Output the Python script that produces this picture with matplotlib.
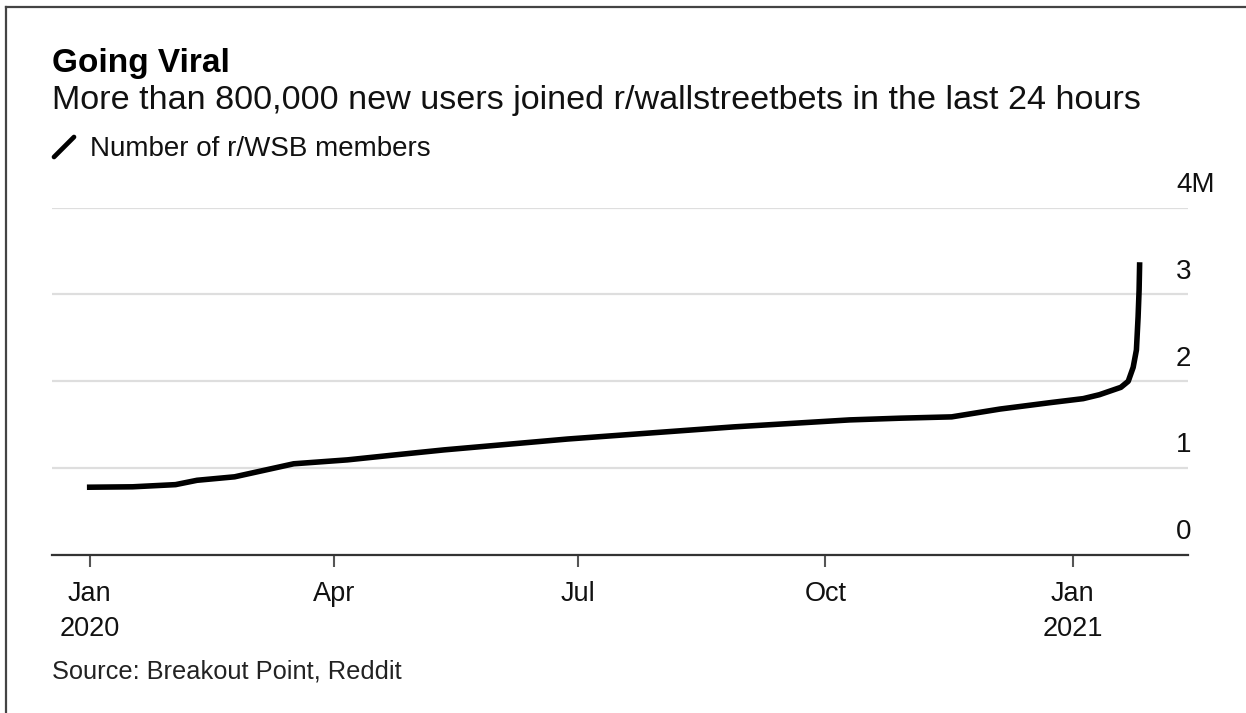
import matplotlib
matplotlib.use("Agg")
import matplotlib.pyplot as plt
from matplotlib.lines import Line2D
import matplotlib.transforms as mtrans
import pandas as pd

plt.rcParams['font.family'] = ['Liberation Sans', 'DejaVu Sans']

# ---- data (millions of members) ----
dates = ["2019-12-31 00:00", "2020-01-17 00:00", "2020-02-02 00:00", "2020-02-10 00:00", "2020-02-24 00:00",
         "2020-03-17 00:00", "2020-04-06 00:00", "2020-04-23 00:00", "2020-05-12 00:00", "2020-06-27 00:00",
         "2020-08-28 00:00", "2020-10-10 00:00", "2020-10-29 00:00", "2020-11-17 00:00", "2020-12-05 00:00",
         "2020-12-24 00:00", "2021-01-05 00:00", "2021-01-11 00:00", "2021-01-19 00:00",
         "2021-01-21 18:00", "2021-01-23 14:00", "2021-01-24 19:00",
         "2021-01-25 10:00", "2021-01-25 19:00", "2021-01-26 00:00"]
members = [0.78, 0.785, 0.81, 0.86, 0.90,
           1.05, 1.095, 1.15, 1.21, 1.335,
           1.475, 1.555, 1.575, 1.59, 1.68,
           1.755, 1.80, 1.845, 1.93,
           2.00, 2.16, 2.36,
           2.74, 3.05, 3.37]
x_ticks = ["2020-01-01", "2020-04-01", "2020-07-01", "2020-10-01", "2021-01-01"]
x_labels = ["Jan\n2020", "Apr", "Jul", "Oct", "Jan\n2021"]
y_ticks = [0, 1, 2, 3, 4]
y_labels = ["0", "1", "2", "3", "4M"]

W, H = 1246, 713
fig = plt.figure(figsize=(W / 100, H / 100), dpi=100)

def fx(px):
    return px / W

def fy(py):
    return 1 - py / H

ax_left, ax_right, ax_top, ax_bottom = 52, 1188, 207.5, 555
ax = fig.add_axes([fx(ax_left), fy(ax_bottom), fx(ax_right - ax_left), (ax_bottom - ax_top) / H])

d = pd.to_datetime(dates, format="%Y-%m-%d %H:%M")
ax.plot(d, members, color='black', lw=4, solid_capstyle='butt', solid_joinstyle='round', zorder=3)

ax.set_xlim(pd.Timestamp("2019-12-18"), pd.Timestamp("2021-02-13"))
ax.set_ylim(0, 4)

for s in ['top', 'right', 'left']:
    ax.spines[s].set_visible(False)
ax.spines['bottom'].set_color('#333333')
ax.spines['bottom'].set_linewidth(1.6)
ax.spines['bottom'].set_zorder(4)

ax.set_xticks(pd.to_datetime(x_ticks))
ax.set_xticklabels(x_labels, fontsize=19.5, color='#111111', linespacing=1.45)
ax.tick_params(axis='x', length=8.5, width=1.5, color='#555555', pad=10)

ax.set_yticks(y_ticks)
ax.set_yticklabels([])
ax.tick_params(axis='y', length=0)
ax.grid(axis='y', color='#dedede', lw=1.6)
ax.set_axisbelow(True)

ytrans = mtrans.blended_transform_factory(ax.transAxes, ax.transData)
off = mtrans.ScaledTranslation(0, 7 / 72, fig.dpi_scale_trans)
for v, lab in zip(y_ticks, y_labels):
    ax.text((1176 - ax_left) / (ax_right - ax_left), v, lab, transform=ytrans + off,
            ha='left', va='bottom', fontsize=20, color='#111111')

# titles
fig.text(fx(52), fy(72), "Going Viral", fontsize=24, fontweight='bold', va='baseline', ha='left')
fig.text(fx(52), fy(109), "More than 800,000 new users joined r/wallstreetbets in the last 24 hours",
         fontsize=24.6, va='baseline', ha='left', color='#111111')
fig.add_artist(Line2D([fx(54), fx(74)], [fy(157), fy(137)], color='black', lw=3.4,
                      solid_capstyle='round'))
fig.text(fx(90), fy(156), "Number of r/WSB members", fontsize=20, va='baseline', ha='left',
         color='#111111')
fig.text(fx(52), fy(679), "Source: Breakout Point, Reddit", fontsize=18.3, va='baseline', ha='left',
         color='#222222')

# frame edges (top and left)
fig.add_artist(Line2D([fx(6), 1], [fy(7), fy(7)], color='#444444', lw=1.6))
fig.add_artist(Line2D([fx(6), fx(6)], [fy(7), 0], color='#444444', lw=1.6))

fig.savefig("out.png", dpi=100)
